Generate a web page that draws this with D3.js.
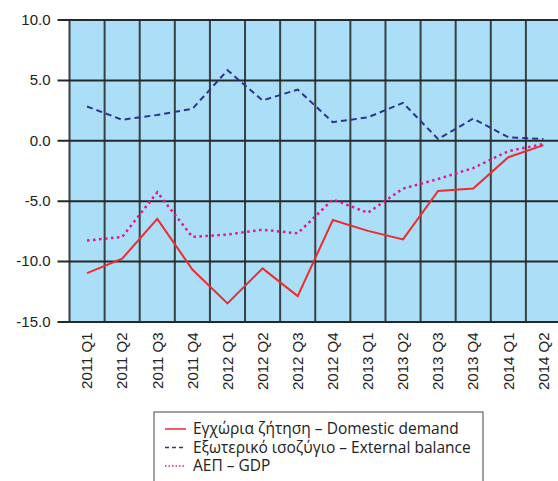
<!DOCTYPE html>
<html>
<head>
<meta charset="utf-8">
<script src="https://cdn.jsdelivr.net/npm/d3@7"></script>
<style>
  body { margin: 0; background: #fff; }
  svg { display: block; font-family: "Open Sans", sans-serif; }
</style>
</head>
<body>
<script>
// Chart data
var quarters = ["2011 Q1", "2011 Q2", "2011 Q3", "2011 Q4", "2012 Q1", "2012 Q2", "2012 Q3",
  "2012 Q4", "2013 Q1", "2013 Q2", "2013 Q3", "2013 Q4", "2014 Q1", "2014 Q2"];
var domesticDemand = [-11.0, -9.8, -6.5, -10.7, -13.5, -10.6, -12.9, -6.6, -7.5, -8.2, -4.2, -4.0, -1.4, -0.4];
var externalBalance = [2.8, 1.7, 2.1, 2.6, 5.8, 3.3, 4.2, 1.5, 1.9, 3.1, 0.1, 1.8, 0.25, 0.1];
var gdp = [-8.3, -8.0, -4.3, -8.0, -7.8, -7.4, -7.7, -4.9, -6.0, -4.0, -3.2, -2.3, -0.9, -0.3];
var yTicks = [10, 5, 0, -5, -10, -15];
var legendLabels = ["Εγχώρια ζήτηση – Domestic demand", "Εξωτερικό ισοζύγιο – External balance", "ΑΕΠ – GDP"];

var width = 558, height = 481;
var plot = { left: 69.5, right: 561, top: 19.5, bottom: 321.5 };

var svg = d3.select("body").append("svg")
  .attr("width", width)
  .attr("height", height);

var x = d3.scaleBand().domain(quarters).range([plot.left, plot.right]);
var y = d3.scaleLinear().domain([-15, 10]).range([plot.bottom, plot.top]);

// Background
svg.append("rect")
  .attr("x", plot.left).attr("y", plot.top)
  .attr("width", plot.right - plot.left).attr("height", plot.bottom - plot.top)
  .attr("fill", "#abdff8");

// Vertical grid lines (category boundaries)
svg.append("g").selectAll("line")
  .data(quarters.concat(["end"]))
  .enter().append("line")
  .attr("x1", function (d, i) { return plot.left + i * x.step(); })
  .attr("x2", function (d, i) { return plot.left + i * x.step(); })
  .attr("y1", plot.top).attr("y2", plot.bottom)
  .attr("stroke", "#3a3f42").attr("stroke-width", 2);

// Horizontal grid lines + y ticks
var yAxis = d3.axisLeft(y)
  .tickValues(yTicks)
  .tickFormat(d3.format(".1f"))
  .tickSize(plot.right - plot.left + 12)
  .tickPadding(7);
var yg = svg.append("g")
  .attr("transform", "translate(" + plot.right + ",0)")
  .call(yAxis);
yg.select(".domain").remove();
yg.selectAll(".tick line").attr("stroke", "#26292b").attr("stroke-width", 2);
yg.selectAll(".tick text")
  .attr("fill", "#222")
  .style("font-size", "15px")
  .text(function (d) { return d3.format(".1f")(d).replace("−", "-"); });

// X axis labels
var xAxis = d3.axisBottom(x).tickSize(0).tickPadding(0);
var xg = svg.append("g")
  .attr("transform", "translate(0," + plot.bottom + ")")
  .call(xAxis);
xg.select(".domain").remove();
xg.selectAll(".tick text")
  .attr("fill", "#222")
  .style("font-size", "15px")
  .attr("transform", "rotate(-90)")
  .attr("text-anchor", "end")
  .attr("x", -11)
  .attr("y", 0)
  .attr("dy", "0.35em");

// Series
var series = [
  { values: domesticDemand, color: "#ee2b2f", dash: null, width: 2 },
  { values: externalBalance, color: "#2e3192", dash: "6,4", width: 2 },
  { values: gdp, color: "#e5168a", dash: "2.5,3.5", width: 2.5 }
];

var line = d3.line()
  .x(function (d, i) { return x(quarters[i]) + x.bandwidth() / 2; })
  .y(function (d) { return y(d); });

svg.append("g").selectAll("path")
  .data(series)
  .enter().append("path")
  .attr("d", function (s) { return line(s.values); })
  .attr("fill", "none")
  .attr("stroke", function (s) { return s.color; })
  .attr("stroke-width", function (s) { return s.width; })
  .attr("stroke-dasharray", function (s) { return s.dash; });

// Legend
var legend = svg.append("g").attr("transform", "translate(154,412)");
legend.append("rect")
  .attr("x", 0).attr("y", 0)
  .attr("width", 329).attr("height", 80)
  .attr("fill", "#fff")
  .attr("stroke", "#444").attr("stroke-width", 1);

var items = legend.selectAll("g.item")
  .data(series)
  .enter().append("g")
  .attr("class", "item")
  .attr("transform", function (d, i) { return "translate(0," + (17 + i * 18.5) + ")"; });

items.append("line")
  .attr("x1", 11).attr("x2", 32)
  .attr("y1", 0).attr("y2", 0)
  .attr("stroke", function (s) { return s.color; })
  .attr("stroke-width", 1.5)
  .attr("stroke-dasharray", function (s) { return s.dash ? (s.dash === "6,4" ? "4,3" : "1.5,2") : null; });

items.append("text")
  .attr("x", 39).attr("y", 0).attr("dy", "0.35em")
  .attr("fill", "#222")
  .style("font-size", "15.5px")
  .text(function (d, i) { return legendLabels[i]; });
</script>
</body>
</html>
